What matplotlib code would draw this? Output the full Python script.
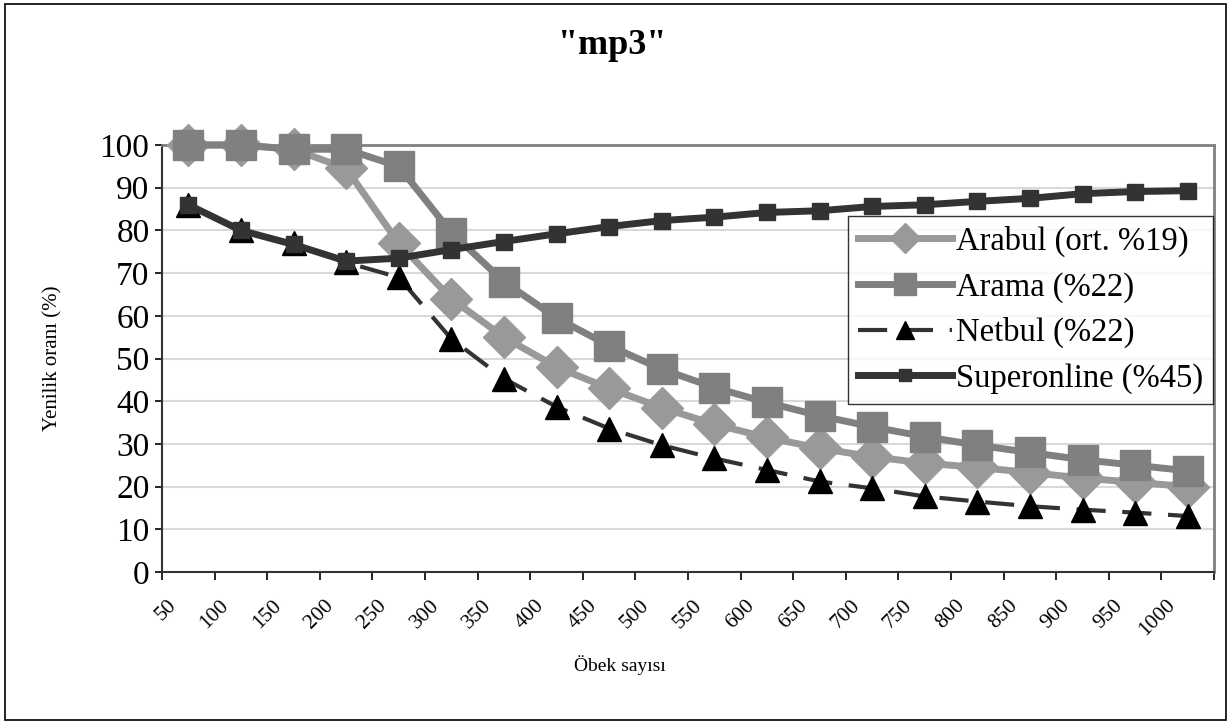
import numpy as np
import matplotlib
matplotlib.use("Agg")
import matplotlib.pyplot as plt
import matplotlib.transforms as mtransforms
from matplotlib.patches import Rectangle

plt.rcParams['font.family'] = ['Liberation Serif', 'DejaVu Serif']

# obek sayisi (x categories)
obek = [50, 100, 150, 200, 250, 300, 350, 400, 450, 500,
        550, 600, 650, 700, 750, 800, 850, 900, 950, 1000]
arabul = [100, 100, 99, 94.5, 77, 64, 55, 48, 43, 38.5,
          34.6, 31.5, 29, 27, 25.5, 24.5, 23.3, 22, 21, 20]
arama = [100, 100, 99, 99, 95, 79.5, 68, 59.5, 53, 47.5,
         43.2, 39.7, 36.6, 34, 31.7, 29.7, 28, 26.3, 25, 23.7]
netbul = [86, 80, 77, 72.5, 69, 54.6, 45.3, 38.7, 33.6, 29.7,
          26.6, 23.9, 21.2, 19.6, 17.7, 16.5, 15.4, 14.6, 13.9, 13.1]
superonline = [86, 80, 76.7, 72.8, 73.5, 75.5, 77.4, 79.2, 80.9, 82.3,
               83.1, 84.2, 84.6, 85.6, 86.0, 86.8, 87.5, 88.6, 89.1, 89.3]

W, H = 1231, 725
fig = plt.figure(figsize=(W / 100, H / 100), dpi=100)
ax = fig.add_axes([162 / W, 1 - 572 / H, (1214 - 162) / W, (572 - 145) / H])

x = np.arange(len(obek))
ax.plot(x, arabul, color='#999999', lw=5, marker='D', ms=21, mfc='#999999',
        mec='#999999', label='Arabul (ort. %19)', zorder=3, clip_on=False)
ax.plot(x, arama, color='#808080', lw=5, marker='s', ms=21, mfc='#808080',
        mec='#808080', label='Arama (%22)', zorder=4, clip_on=False)
ax.plot(x, netbul, color='#333333', lw=3, dashes=(7, 4), marker='^', ms=17,
        mfc='black', mec='black', label='Netbul (%22)', zorder=5, clip_on=False)
ax.plot(x, superonline, color='#333333', lw=5, marker='s', ms=11,
        mfc='#333333', mec='#333333', label='Superonline (%45)', zorder=6,
        clip_on=False)

ax.set_xlim(-0.5, len(obek) - 0.5)
ax.set_ylim(0, 100)
ax.set_yticks(range(0, 101, 10))
ax.tick_params(axis='y', labelsize=24, length=5, width=1.2, direction='out', pad=4)
ax.yaxis.grid(True, color='#d9d9d9', lw=1.5)
ax.set_axisbelow(True)

# tick marks between categories, labels at the centres
ax.set_xticks(np.arange(-0.5, len(obek)), labels=[])
ax.tick_params(axis='x', which='major', length=6, width=1.2, direction='out')
ax.set_xticks(x, minor=True)
ax.set_xticklabels([str(v) for v in obek], minor=True, rotation=45,
                   ha='right', va='center', rotation_mode='anchor', fontsize=15.5)
ax.tick_params(axis='x', which='minor', length=0, pad=22)
shift = mtransforms.ScaledTranslation(-15 / 100, 0, fig.dpi_scale_trans)
for lab in ax.get_xticklabels(minor=True):
    lab.set_transform(lab.get_transform() + shift)

for s in ['left', 'bottom']:
    ax.spines[s].set_color('#333333')
    ax.spines[s].set_linewidth(1.5)
for s in ['top', 'right']:
    ax.spines[s].set_color('#808080')
    ax.spines[s].set_linewidth(2)

ax.set_ylabel('Yenilik oranı (%)', fontsize=15)
ax.yaxis.set_label_coords(-0.095, 0.5)
ax.set_xlabel('Öbek sayısı', fontsize=14)
ax.xaxis.set_label_coords(0.435, -0.194)

leg = ax.legend(loc='upper left', bbox_to_anchor=(848 / W, 1 - 216 / H),
                bbox_transform=fig.transFigure, borderaxespad=0, fontsize=23.5,
                frameon=True, fancybox=False, edgecolor='black',
                handlelength=2.9, handletextpad=0.1, borderpad=0.3,
                labelspacing=0.45, markerscale=0.75)
leg.get_frame().set_linewidth(1)
leg.set_zorder(10)

fig.text(0.497, 1 - 45 / H, '"mp3"', ha='center', va='center',
         fontsize=26, fontweight='bold')

fig.patches.append(Rectangle((5 / W, 1 - 720 / H), 1221 / W, 716 / H,
                             transform=fig.transFigure, fill=False,
                             edgecolor='black', lw=1.2))

fig.savefig('out.png', dpi=100)
